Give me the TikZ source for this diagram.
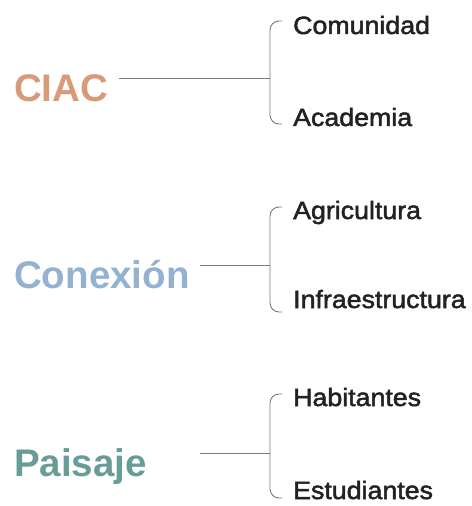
\documentclass[tikz,border=0pt]{standalone}
\usepackage{fontspec}
\setmainfont{Liberation Sans}
\newfontfamily\childfont[FakeStretch=1.07,FakeBold=2]{Liberation Sans}
\definecolor{ciaccol}{HTML}{D99A78}
\definecolor{conexcol}{HTML}{93B2CF}
\definecolor{paiscol}{HTML}{679C98}
\definecolor{linecol}{HTML}{7A7A7A}
\definecolor{txtcol}{HTML}{222222}
\begin{document}
\begin{tikzpicture}[x=1bp,y=-1bp,
  mainlabel/.style={anchor=base west,inner sep=0pt,font=\fontsize{38.5bp}{40bp}\selectfont\bfseries},
  childlabel/.style={anchor=base west,inner sep=0pt,text=txtcol,font=\childfont\fontsize{25bp}{27bp}\selectfont},
  conn/.style={draw=linecol,line width=0.9bp},
  brace/.style={draw=linecol,line width=0.9bp,rounded corners=9bp}]
\useasboundingbox (0,0) rectangle (472,506);
% group 1
\node[mainlabel,text=ciaccol] (ciac) at (14,101.5) {CIAC};
\node[childlabel] (comunidad) at (293,34) {Comunidad};
\node[childlabel] (academia) at (293,126) {Academia};
\coordinate (s1) at (119,78);
\coordinate (j1) at (270,78);
\coordinate (t1) at (282,21);
\coordinate (b1) at (282,124);
\draw[conn] (s1) -- (j1);
\draw[brace] (t1) -- (270,21) -- (270,124) -- (b1);
% group 2
\node[mainlabel,text=conexcol] (conexion) at (14,288) {Conexión};
\node[childlabel] (agricultura) at (293,219) {Agricultura};
\node[childlabel] (infra) at (293,308) {Infraestructura};
\coordinate (s2) at (200,265);
\coordinate (j2) at (270,265);
\coordinate (t2) at (282,207);
\coordinate (b2) at (282,312);
\draw[conn] (s2) -- (j2);
\draw[brace] (t2) -- (270,207) -- (270,312) -- (b2);
% group 3
\node[mainlabel,text=paiscol] (paisaje) at (14,476) {Paisaje};
\node[childlabel] (habitantes) at (293,406) {Habitantes};
\node[childlabel] (estudiantes) at (293,499) {Estudiantes};
\coordinate (s3) at (200,453);
\coordinate (j3) at (270,453);
\coordinate (t3) at (282,394);
\coordinate (b3) at (282,498);
\draw[conn] (s3) -- (j3);
\draw[brace] (t3) -- (270,394) -- (270,498) -- (b3);
\end{tikzpicture}
\end{document}
